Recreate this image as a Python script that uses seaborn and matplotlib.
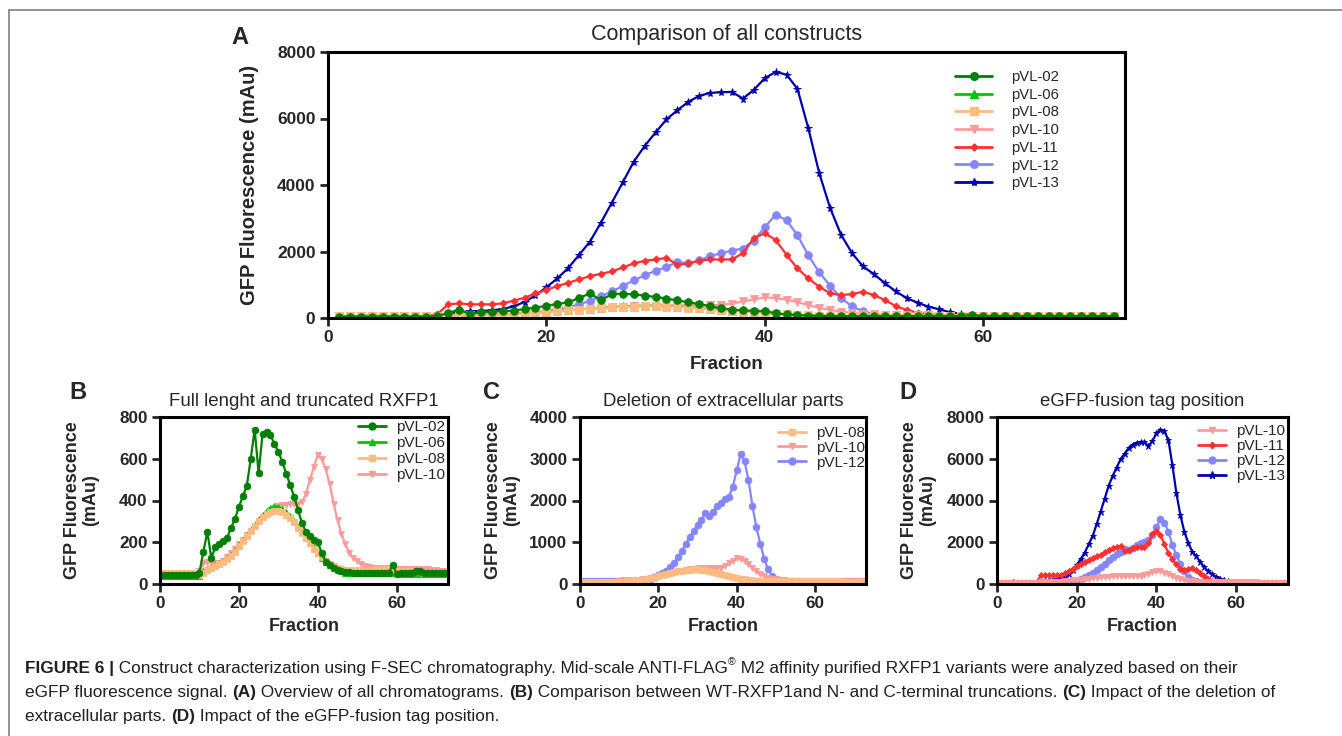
import numpy as np
import pandas as pd
import matplotlib
matplotlib.use('Agg')
import matplotlib.pyplot as plt
import seaborn as sns
from matplotlib.lines import Line2D

# fractions collected from the F-SEC run
fractions = list(range(1, 73))

pvl02 = [45, 45, 45, 45, 45, 45, 45, 45, 45, 55,
         155, 250, 125, 175, 190, 205, 220, 270, 310, 370,
         420, 470, 600, 740, 530, 720, 728, 712, 672, 633,
         585, 529, 473, 418, 354, 290, 250, 229, 213, 202,
         147, 107, 91, 75, 67, 62, 58, 56, 55, 55,
         55, 55, 55, 55, 55, 55, 55, 55, 90, 50,
         55, 55, 55, 55, 60, 60, 55, 55, 55, 55, 55, 55]
pvl06 = [40, 40, 40, 40, 40, 40, 40, 40, 40, 40,
         60, 70, 80, 90, 100, 110, 125, 140, 160, 185,
         210, 235, 260, 285, 310, 330, 350, 365, 372, 370,
         360, 345, 325, 300, 275, 250, 225, 200, 175, 150,
         125, 105, 90, 75, 65, 60, 55, 55, 55, 55,
         55, 55, 55, 55, 55, 55, 55, 55, 55, 55,
         50, 50, 50, 50, 50, 50, 50, 50, 50, 50, 50, 50]
pvl08 = [55, 55, 55, 55, 55, 55, 55, 55, 50, 45,
         55, 65, 75, 85, 95, 105, 120, 135, 155, 180,
         205, 230, 255, 280, 300, 320, 335, 345, 350, 350,
         345, 330, 315, 295, 270, 245, 220, 195, 170, 150,
         130, 110, 95, 85, 75, 70, 65, 65, 65, 65,
         65, 65, 65, 65, 70, 70, 70, 70, 65, 60,
         60, 60, 60, 60, 60, 60, 55, 55, 55, 55, 55, 55]
pvl10 = [50, 50, 50, 50, 50, 50, 50, 50, 50, 60,
         100, 105, 105, 100, 100, 110, 130, 150, 170, 190,
         210, 235, 255, 280, 300, 320, 335, 350, 365, 375,
         380, 380, 385, 385, 385, 395, 430, 500, 560, 620,
         600, 550, 480, 385, 305, 240, 190, 150, 125, 108,
         96, 85, 80, 78, 76, 75, 75, 75, 72, 72,
         72, 72, 72, 72, 72, 70, 70, 70, 68, 65, 62, 60]
pvl11 = [60, 60, 60, 80, 60, 60, 60, 60, 60, 110,
         410, 440, 410, 410, 410, 440, 520, 610, 740, 840,
         960, 1060, 1160, 1260, 1330, 1400, 1520, 1640, 1720, 1760,
         1810, 1600, 1640, 1720, 1760, 1760, 1760, 1950, 2400, 2550,
         2350, 1900, 1490, 1190, 940, 740, 690, 720, 790, 690,
         540, 360, 240, 160, 120, 90, 80, 75, 70, 70,
         70, 70, 70, 65, 65, 65, 65, 60, 60, 60, 60, 60]
pvl12 = [60, 60, 60, 60, 60, 60, 60, 60, 60, 60,
         70, 75, 80, 85, 90, 100, 110, 130, 170, 215,
         255, 320, 415, 510, 650, 800, 960, 1130, 1280, 1420,
         1530, 1690, 1640, 1730, 1865, 1945, 2030, 2090, 2330, 2725,
         3110, 2940, 2490, 1880, 1370, 970, 600, 350, 200, 120,
         90, 75, 70, 65, 65, 60, 60, 60, 60, 60,
         60, 60, 60, 60, 60, 60, 60, 60, 60, 60, 60, 60]
pvl13 = [50, 50, 50, 50, 50, 50, 50, 50, 50, 60,
         120, 170, 200, 210, 230, 270, 350, 480, 680, 920,
         1190, 1500, 1900, 2300, 2870, 3470, 4080, 4700, 5170, 5580,
         5970, 6250, 6500, 6680, 6770, 6790, 6800, 6600, 6860, 7210,
         7400, 7320, 6890, 5700, 4350, 3300, 2500, 1950, 1550, 1320,
         1050, 800, 600, 460, 340, 260, 170, 120, 90, 70,
         60, 60, 55, 55, 55, 50, 50, 50, 50, 50, 50, 50]

constructs = ['pVL-02', 'pVL-06', 'pVL-08', 'pVL-10', 'pVL-11', 'pVL-12', 'pVL-13']
values = [pvl02, pvl06, pvl08, pvl10, pvl11, pvl12, pvl13]

colors = {'pVL-02': '#007f00', 'pVL-06': '#00c800', 'pVL-08': '#ffbb80',
          'pVL-10': '#ff9a9a', 'pVL-11': '#ff3030', 'pVL-12': '#8585ff',
          'pVL-13': '#0000b0'}
markers = {'pVL-02': 'o', 'pVL-06': '^', 'pVL-08': 's', 'pVL-10': 'v',
           'pVL-11': 'D', 'pVL-12': 'o', 'pVL-13': '*'}
msize = {'pVL-02': 1.0, 'pVL-06': 1.0, 'pVL-08': 1.0, 'pVL-10': 1.0,
         'pVL-11': 0.65, 'pVL-12': 1.0, 'pVL-13': 1.05}
# draw order: last one ends up on top
draw_order = ['pVL-13', 'pVL-12', 'pVL-11', 'pVL-10', 'pVL-06', 'pVL-08', 'pVL-02']

rows = []
for name, vals in zip(constructs, values):
    for f, v in zip(fractions, vals):
        rows.append((name, f, v))
data = pd.DataFrame(rows, columns=['Construct', 'Fraction', 'GFP'])

sns.set_style('ticks')
plt.rcParams['font.family'] = ['Liberation Sans', 'DejaVu Sans']

W, H = 1342, 736
fig = plt.figure(figsize=(W / 100, H / 100), dpi=100)


def px_axes(left, right, top, bottom):
    return fig.add_axes([left / W, 1 - bottom / H, (right - left) / W, (bottom - top) / H])


def draw_panel(ax, names, ms, lw):
    for name in draw_order:
        if name not in names:
            continue
        sub = data[data['Construct'] == name]
        sns.lineplot(data=sub, x='Fraction', y='GFP', color=colors[name],
                     marker=markers[name], markersize=ms * msize[name],
                     markeredgewidth=0.6, markeredgecolor=colors[name],
                     linewidth=lw, label=name, ax=ax, legend=False)


def style_axes(ax, ymax, ystep, fs):
    ax.set_xlim(0, 73)
    ax.set_ylim(0, ymax)
    ax.set_xticks([0, 20, 40, 60])
    ax.set_yticks(np.arange(0, ymax + 1, ystep))
    for s in ax.spines.values():
        s.set_visible(True)
        s.set_linewidth(2.2)
        s.set_color('black')
    ax.tick_params(width=2, length=6, direction='out', labelsize=fs, pad=3)
    for lbl in ax.get_xticklabels() + ax.get_yticklabels():
        lbl.set_fontweight('bold')


def add_legend(ax, names, x, y, fs, hl, ls, tp, ms):
    handles = [Line2D([], [], color=colors[n], marker=markers[n],
                      markersize=ms * msize[n], linewidth=2) for n in names]
    ax.legend(handles, names, loc='upper left', bbox_to_anchor=(x / W, 1 - y / H),
              bbox_transform=fig.transFigure, frameon=False, fontsize=fs,
              handlelength=hl, labelspacing=ls, handletextpad=tp,
              borderpad=0, borderaxespad=0)


# Panel A
axA = px_axes(328, 1125, 52, 318)
draw_panel(axA, constructs, 5.5, 1.6)
style_axes(axA, 8000, 2000, 12.5)
axA.set_xlabel('Fraction', fontsize=13.5, fontweight='bold')
axA.set_ylabel('GFP Fluorescence (mAu)', fontsize=14.5, fontweight='bold')
axA.xaxis.set_label_coords(0.5, -0.143)
axA.yaxis.set_label_coords(-0.087, 0.5)
axA.text(0.5, 1.064, 'Comparison of all constructs', transform=axA.transAxes,
         ha='center', va='center', fontsize=15.5)
add_legend(axA, constructs, 955, 70, 10.7, 2.5, 0.25, 1.3, 5.5)
fig.text(240 / W, 1 - 38 / H, 'A', fontsize=17, fontweight='bold', ha='center', va='center')

# Panels B, C, D
small = [
    ('B', 160, 448, 'Full lenght and truncated RXFP1', ['pVL-02', 'pVL-06', 'pVL-08', 'pVL-10'],
     800, 200, 358, 420, 78, 0.14),
    ('C', 580, 866, 'Deletion of extracellular parts', ['pVL-08', 'pVL-10', 'pVL-12'],
     4000, 1000, 778, 426, 492, 0.05),
    ('D', 997, 1288, 'eGFP-fusion tag position', ['pVL-10', 'pVL-11', 'pVL-12', 'pVL-13'],
     8000, 2000, 1198, 424, 908, 0.07),
]
for letter, left, right, title, names, ymax, ystep, lx, ly, letx, lsp in small:
    ax = px_axes(left, right, 417, 584)
    draw_panel(ax, names, 4.8, 1.6)
    style_axes(ax, ymax, ystep, 12.3)
    ax.set_xlabel('Fraction', fontsize=13, fontweight='bold')
    ax.set_ylabel('GFP Fluorescence\n(mAu)', fontsize=13, fontweight='bold', linespacing=1.1)
    ax.xaxis.set_label_coords(0.5, -0.205)
    ax.yaxis.set_label_coords(-0.21, 0.5)
    ax.text(0.5, 1.095, title, transform=ax.transAxes, ha='center', va='center', fontsize=13.4)
    add_legend(ax, names, lx, ly, 11, 1.8, lsp, 0.7, 5)
    fig.text(letx / W, 1 - 393 / H, letter, fontsize=17, fontweight='bold', ha='center', va='center')

# outer frame lines
fig.add_artist(Line2D([9 / W, 1], [1 - 10 / H, 1 - 10 / H], transform=fig.transFigure,
                      color='#808080', linewidth=1.2))
fig.add_artist(Line2D([9 / W, 9 / W], [0, 1 - 10 / H], transform=fig.transFigure,
                      color='#808080', linewidth=1.2))

# caption with mixed bold/normal runs
renderer = fig.canvas.get_renderer()
cap_fs = 12.4


def text_width(s, weight, size):
    t = fig.text(0, 0, '|' + s + '|', fontsize=size, fontweight=weight)
    w1 = t.get_window_extent(renderer).width
    t.remove()
    t = fig.text(0, 0, '||', fontsize=size, fontweight=weight)
    w0 = t.get_window_extent(renderer).width
    t.remove()
    return w1 - w0


caption = [
    (668, [('FIGURE 6 |', 'bold', 0), (' Construct characterization using F-SEC chromatography. Mid-scale ANTI-FLAG', 'normal', 0),
           ('®', 'normal', 1), (' M2 affinity purified RXFP1 variants were analyzed based on their', 'normal', 0)]),
    (692, [('eGFP fluorescence signal. ', 'normal', 0), ('(A)', 'bold', 0), (' Overview of all chromatograms. ', 'normal', 0),
           ('(B)', 'bold', 0), (' Comparison between WT-RXFP1and N- and C-terminal truncations. ', 'normal', 0),
           ('(C)', 'bold', 0), (' Impact of the deletion of', 'normal', 0)]),
    (716, [('extracellular parts. ', 'normal', 0), ('(D)', 'bold', 0),
           (' Impact of the eGFP-fusion tag position.', 'normal', 0)]),
]
for ypx, parts in caption:
    x = 25.0
    for s, weight, sup in parts:
        size = cap_fs * (0.6 if sup else 1.0)
        yy = ypx - (6 if sup else 0)
        fig.text(x / W, 1 - yy / H, s, fontsize=size, fontweight=weight,
                 ha='left', va='center', color='#231f20')
        x += text_width(s, weight, size)

fig.savefig('out.png', dpi=100, facecolor='white')
